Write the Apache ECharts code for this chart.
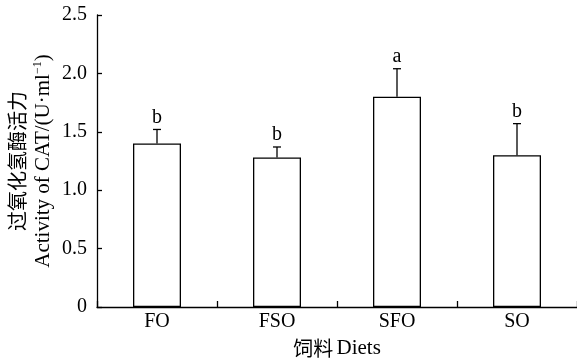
<!DOCTYPE html>
<html>
<head>
<meta charset="utf-8">
<script src="https://cdn.jsdelivr.net/npm/echarts@6/dist/echarts.min.js"></script>
<style>
  html, body { margin: 0; padding: 0; background: #fff; }
  #chart { width: 577px; height: 360px; }
</style>
</head>
<body>
<div id="chart"></div>
<script>
// CAT activity by diet: mean, upper error bound and significance letter
var diets = ['FO', 'FSO', 'SFO', 'SO'];
var meanValues = [1.40, 1.28, 1.80, 1.30];
var upperValues = [1.52, 1.37, 2.04, 1.57];
var sigLetters = ['b', 'b', 'a', 'b'];
var yTicks = [0, 0.5, 1.0, 1.5, 2.0, 2.5];

var serif = '"Liberation Serif", "Times New Roman", serif';
var cjk = '"Noto Sans CJK SC", sans-serif';

var chart = echarts.init(document.getElementById('chart'), null, { renderer: 'canvas' });

var errData = diets.map(function (d, i) {
  return [i, meanValues[i], upperValues[i], sigLetters[i]];
});

chart.setOption({
  animation: false,
  backgroundColor: '#fff',
  grid: { left: 97, right: 0, top: 15, bottom: 53, containLabel: false, outerBoundsMode: 'none' },
  xAxis: {
    type: 'category',
    data: diets,
    boundaryGap: true,
    axisLine: { show: true, lineStyle: { color: '#000', width: 1.3 } },
    axisTick: { show: true, inside: true, length: 6, alignWithLabel: false, lineStyle: { color: '#000', width: 1.3 } },
    axisLabel: { color: '#000', fontFamily: serif, fontSize: 20, margin: 5 },
    name: '{c|饲料} {e|Diets}',
    nameLocation: 'middle',
    nameGap: 31,
    nameMoveOverlap: false,
    nameTextStyle: {
      rich: {
        c: { fontFamily: cjk, fontSize: 20, color: '#000' },
        e: { fontFamily: serif, fontSize: 21, color: '#000' }
      }
    }
  },
  yAxis: {
    type: 'value',
    min: yTicks[0],
    max: yTicks[yTicks.length - 1],
    interval: 0.5,
    splitLine: { show: false },
    axisLine: { show: true, lineStyle: { color: '#000', width: 1.3 } },
    axisTick: { show: true, inside: true, length: 5, lineStyle: { color: '#000', width: 1.3 } },
    axisLabel: {
      color: '#000', fontFamily: serif, fontSize: 20, margin: 10,
      formatter: function (v) { return v === 0 ? '0' : v.toFixed(1); }
    },
    name: '{c|过氧化氢酶活力}\n{e|Activity of CAT/(U·ml}{s|−1}{e|)}',
    nameLocation: 'middle',
    nameRotate: 90,
    nameGap: 41,
    nameMoveOverlap: false,
    nameTextStyle: {
      lineHeight: 26,
      rich: {
        c: { fontFamily: cjk, fontSize: 20, color: '#000', lineHeight: 26 },
        e: { fontFamily: serif, fontSize: 21, color: '#000', lineHeight: 26 },
        s: { fontFamily: serif, fontSize: 12, color: '#000', lineHeight: 26, padding: [0, 0, 10, 0] }
      }
    }
  },
  series: [
    {
      type: 'bar',
      data: meanValues,
      barWidth: 48,
      itemStyle: { color: '#fff', borderColor: '#000', borderWidth: 1.3 },
      z: 2
    },
    {
      type: 'custom',
      data: errData,
      z: 3,
      renderItem: function (params, api) {
        var x = api.value(0);
        var top = api.coord([x, api.value(2)]);
        var base = api.coord([x, api.value(1)]);
        var cap = 4;
        var style = { stroke: '#000', lineWidth: 1.3 };
        return {
          type: 'group',
          children: [
            { type: 'line', shape: { x1: top[0], y1: base[1], x2: top[0], y2: top[1] }, style: style },
            { type: 'line', shape: { x1: top[0] - cap, y1: top[1], x2: top[0] + cap, y2: top[1] }, style: style },
            {
              type: 'text',
              style: {
                text: sigLetters[params.dataIndex],
                x: top[0], y: top[1] - 2,
                align: 'center', verticalAlign: 'bottom',
                font: '20px ' + serif, fill: '#000'
              }
            }
          ]
        };
      }
    }
  ]
});
</script>
</body>
</html>
